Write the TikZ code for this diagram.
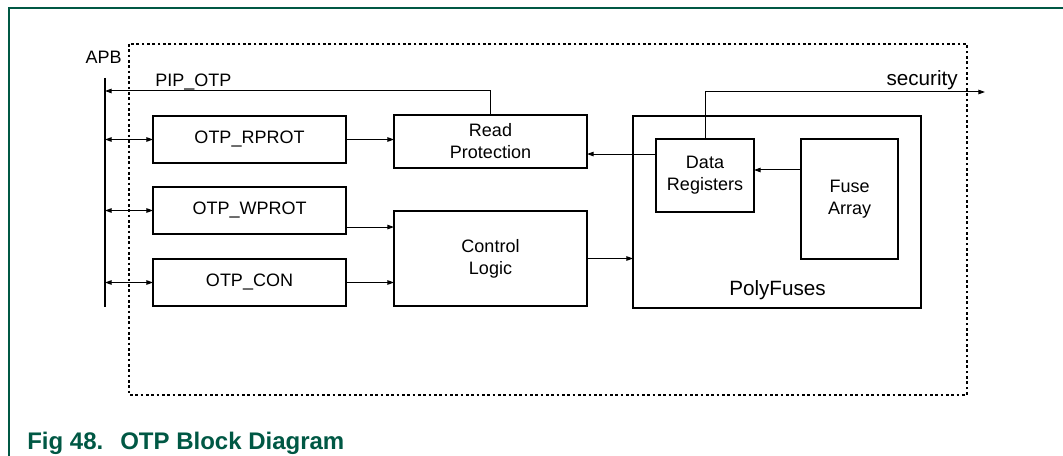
\documentclass[tikz,border=0pt]{standalone}
\usepackage{fontspec}
\setmainfont{Liberation Sans}
\usetikzlibrary{arrows.meta,calc}
\definecolor{nxpgreen}{RGB}{0,88,68}
\tikzset{
  blk/.style={draw=black, line width=1.5pt, inner sep=0pt, outer sep=0pt, align=center,
              font=\fontsize{13.5}{16.5}\selectfont},
  conn/.style={line width=0.75pt, -{Triangle[length=5pt,width=3.4pt]}},
  biconn/.style={line width=0.75pt, {Triangle[length=5pt,width=3.4pt]}-{Triangle[length=5pt,width=3.4pt]}},
  lbl/.style={inner sep=0pt, font=\fontsize{13.5}{16.5}\selectfont},
  biglbl/.style={inner sep=0pt, font=\fontsize{15.5}{18}\selectfont},
  figcap/.style={inner sep=0pt, text=nxpgreen, font=\fontsize{18}{21}\selectfont\bfseries},
  dotbox/.style={line width=2pt, dash pattern=on 2pt off 2pt},
}
\begin{document}
\begin{tikzpicture}[x=0.75pt,y=-0.75pt]
\useasboundingbox (0,0) rectangle (1063,456);
% frame
\draw[nxpgreen, line width=0.9pt] (9,456) -- (9,8) -- (1063,8);
% dotted boundary
\draw[dotbox] (129,44) rectangle (967,395);
% APB bar
\coordinate (apbT) at (105,78);
\coordinate (apbB) at (105,307);
\draw[line width=1.6pt] (apbT) -- (apbB);
\node[lbl, anchor=base east] (apb) at (122,64) {APB};
% blocks
\node[blk, minimum width=144.75pt, minimum height=35.25pt] (rprot) at (249.5,139.5) {OTP\_RPROT};
\node[blk, minimum width=144.75pt, minimum height=35.25pt] (wprot) at (249.5,210.5) {OTP\_WPROT};
\node[blk, minimum width=144.75pt, minimum height=35.25pt] (con)   at (249.5,282.5) {OTP\_CON};
\node[blk, minimum width=144.75pt, minimum height=39.75pt] (readp) at (490.5,141.5) {Read\\Protection};
\node[blk, minimum width=144.75pt, minimum height=71.25pt] (ctrl)  at (490.5,258.5) {Control\\Logic};
\node[blk, minimum width=216pt, minimum height=144pt] (poly) at (777,212) {};
\node[biglbl, anchor=base] (polylbl) at (777.5,295) {PolyFuses};
\node[blk, minimum width=73.5pt, minimum height=54.75pt] (dreg) at (705,175.5) {Data\\Registers};
\node[blk, minimum width=72.75pt, minimum height=90pt] (fuse) at (849.5,199) {Fuse\\Array};
% labels
\node[lbl, anchor=base west] (pip) at (155,87) {PIP\_OTP};
\node[biglbl, anchor=base east] (sec) at (958,86) {security};
% APB connections
\draw[biconn] (rprot.west -| apbT) -- (rprot.west);
\draw[biconn] (wprot.west -| apbT) -- (wprot.west);
\draw[biconn] (con.west -| apbT) -- (con.west);
% internal connections
\draw[conn] (rprot.east) -- (rprot.east -| readp.west);
\coordinate (wout) at ([yshift=-12.4pt]wprot.east);
\draw[conn] (wout) -- (wout -| ctrl.west);
\draw[conn] (con.east) -- (con.east -| ctrl.west);
\draw[conn] (ctrl.east) -- (ctrl.east -| poly.west);
\coordinate (fout) at ([yshift=21.75pt]fuse.west);
\draw[conn] (fout) -- (fout -| dreg.east);
\coordinate (dout) at ([yshift=16.1pt]dreg.west);
\draw[conn] (dout) -- (dout -| readp.east);
% security output
\coordinate (secEnd) at (985,92);
\draw[conn] (dreg.north) |- (secEnd);
% PIP_OTP
\coordinate (pipEnd) at (105,91);
\draw[conn] (readp.north) |- (pipEnd);
% caption
\node[figcap, anchor=base west] (fig) at (27,449) {Fig 48.};
\node[figcap, anchor=base west] (figt) at (120,449) {OTP Block Diagram};
\end{tikzpicture}
\end{document}
